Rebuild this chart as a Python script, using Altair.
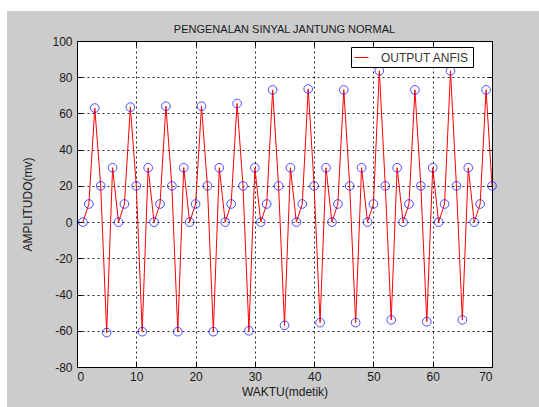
import altair as alt
import pandas as pd

# ---- data ----
waktu = [1, 2, 3, 4, 5, 6, 7, 8, 9, 10,
         11, 12, 13, 14, 15, 16, 17, 18, 19, 20,
         21, 22, 23, 24, 25, 26, 27, 28, 29, 30,
         31, 32, 33, 34, 35, 36, 37, 38, 39, 40,
         41, 42, 43, 44, 45, 46, 47, 48, 49, 50,
         51, 52, 53, 54, 55, 56, 57, 58, 59, 60,
         61, 62, 63, 64, 65, 66, 67, 68, 69, 70]
amplitudo = [0, 10, 63, 20, -61, 30,
             0, 10, 63.5, 20, -60.5, 30,
             0, 10, 64, 20, -60.5, 30,
             0, 10, 64, 20, -60.5, 30,
             0, 10, 65.5, 20, -60, 30,
             0, 10, 73, 20, -57, 30,
             0, 10, 73.5, 20, -55.5, 30,
             0, 10, 73, 20, -55.5, 30,
             0, 10, 83.5, 20, -54, 30,
             0, 10, 73, 20, -55, 30,
             0, 10, 83.5, 20, -54, 30,
             0, 10, 73, 20]
series_name = "OUTPUT ANFIS"
x_ticks = [0, 10, 20, 30, 40, 50, 60, 70]
y_ticks = [-80, -60, -40, -20, 0, 20, 40, 60, 80, 100]

df = pd.DataFrame({"waktu": waktu, "amplitudo": amplitudo})
df["seri"] = series_name

FONT = "Liberation Sans"
TXT = "#1a1a1a"

x_scale = alt.Scale(domain=[0, 70], nice=False, zero=False)
y_scale = alt.Scale(domain=[-80, 100], nice=False, zero=False)

x_main = alt.X(
    "waktu:Q", scale=x_scale,
    axis=alt.Axis(
        values=x_ticks, tickCount=30, title="WAKTU(mdetik)", grid=True, ticks=False,
        domain=False, gridDash=[2, 3], gridColor="#000000", gridOpacity=0.85,
        labelFontSize=12, labelFont=FONT, labelColor=TXT, labelPadding=4,
        labelOverlap=False,
        titleFontSize=12, titleFont=FONT, titleColor=TXT, titleFontWeight="normal",
        titlePadding=4, labelExpr="'' + datum.value",
    ),
)
y_main = alt.Y(
    "amplitudo:Q", scale=y_scale,
    axis=alt.Axis(
        values=y_ticks, tickCount=30, title="AMPLITUDO(mv)", grid=True, ticks=False,
        domain=False, gridDash=[2, 3], gridColor="#000000", gridOpacity=0.85,
        labelFontSize=12, labelFont=FONT, labelColor=TXT, labelPadding=5,
        labelOverlap=False,
        titleFontSize=12, titleFont=FONT, titleColor=TXT, titleFontWeight="normal",
        titlePadding=17, labelExpr="'' + datum.value",
    ),
)


def inner_ticks(orient, vals):
    # MATLAB-style ticks drawn inward from the box edge
    return alt.Axis(
        orient=orient, values=vals, tickCount=30, labels=False, grid=False,
        domain=False, ticks=True, tickSize=5, offset=-5, title=None,
        tickColor="#000000", tickWidth=1,
    )


base = alt.Chart(df)

line = base.mark_line(strokeWidth=1, clip=False).encode(
    x=x_main,
    y=y_main,
    color=alt.Color(
        "seri:N",
        scale=alt.Scale(domain=[series_name], range=["#ff0000"]),
        legend=alt.Legend(
            title=None, orient="none", legendX=274, legendY=6,
            strokeColor="#000000", fillColor="#ffffff", padding=3,
            symbolType="stroke", symbolSize=196, symbolStrokeWidth=1,
            labelFontSize=12, labelFont=FONT, labelColor="#333333",
            labelOffset=12, cornerRadius=0,
        ),
    ),
)

points = base.mark_point(
    shape="circle", filled=False, color="#0000ff", size=75, strokeWidth=1
).encode(
    x=alt.X("waktu:Q", scale=x_scale, axis=inner_ticks("top", x_ticks)),
    y=alt.Y("amplitudo:Q", scale=y_scale, axis=inner_ticks("right", y_ticks)),
)

ghost = base.mark_point(opacity=0).encode(
    x=alt.X("waktu:Q", scale=x_scale, axis=inner_ticks("bottom", x_ticks)),
    y=alt.Y("amplitudo:Q", scale=y_scale, axis=inner_ticks("left", y_ticks)),
)

strip_data = alt.Data(values=[{"k": 1}])
top_strip = alt.Chart(strip_data).mark_rect(color="#ffffff").encode(
    x=alt.value(-77), x2=alt.value(470), y=alt.value(-41), y2=alt.value(-30)
)
left_strip = alt.Chart(strip_data).mark_rect(color="#ffffff").encode(
    x=alt.value(-77), x2=alt.value(-70), y=alt.value(-41), y2=alt.value(370)
)

chart = (
    alt.layer(top_strip, left_strip, line, points, ghost)
    .resolve_axis(x="independent", y="independent")
    .properties(
        width=415,
        height=326,
        autosize=alt.AutoSizeParams(type="none"),
        padding={"left": 77, "top": 41, "right": 47, "bottom": 40},
        title=alt.TitleParams(
            "PENGENALAN SINYAL JANTUNG NORMAL", fontSize=11, font=FONT,
            fontWeight="normal", color=TXT, offset=0, anchor="middle",
            frame="group", baseline="alphabetic", dy=44,
        ),
    )
    .configure(background="#cccccc")
    .configure_view(stroke="#000000", strokeWidth=1, fill="#ffffff")
)

chart.save("out.html", embed_options={"renderer": "svg", "actions": False})
